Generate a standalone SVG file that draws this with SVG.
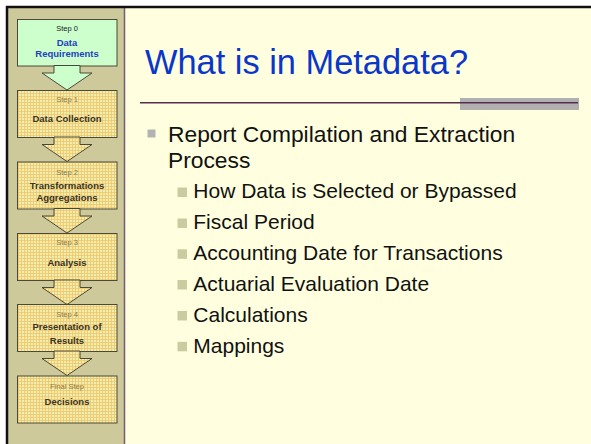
<svg xmlns="http://www.w3.org/2000/svg" width="591" height="444" viewBox="0 0 591 444">
<defs>
<pattern id="chk" width="3" height="3" patternUnits="userSpaceOnUse">
<rect width="3" height="3" fill="#EDEFB0"/>
<rect width="3" height="1" fill="#F5C466" opacity="0.8"/>
<rect width="1" height="3" fill="#F5C466" opacity="0.8"/>
</pattern>
<style>
.box{stroke:#4a4a3a;stroke-width:1}
.chk{fill:url(#chk)}
.arr{stroke:#3a3a30;stroke-width:0.9;stroke-linejoin:miter}
.sm{font-family:"Liberation Sans",Arial,sans-serif;font-size:7.5px;text-anchor:middle;fill:#8a7c52}
.tt{font-family:"Liberation Sans",Arial,sans-serif;font-size:9.5px;font-weight:bold;text-anchor:middle;fill:#3a3424}
.b1{font-family:"Liberation Sans",Arial,sans-serif;font-size:22.8px;fill:#111111}
.b2{font-family:"Liberation Sans",Arial,sans-serif;font-size:21px;fill:#111111}
.sq1{fill:#B3B3B3}
.sq2{fill:#CBCBA0}
</style>
</defs>
<rect width="591" height="444" fill="#ffffff"/>
<rect x="7" y="7" width="584" height="437" fill="#FFFFDF"/>
<rect x="7" y="7" width="117.5" height="437" fill="#CDC99B"/>
<line x1="124.5" y1="8" x2="124.5" y2="444" stroke="#7A5A72" stroke-width="1.5"/>
<line x1="6" y1="7" x2="591" y2="7" stroke="#111111" stroke-width="2.5"/>
<line x1="7" y1="6" x2="7" y2="444" stroke="#111111" stroke-width="2.5"/>

<g id="step0">
<rect class="box" x="17.5" y="19.5" width="99.5" height="46.5" fill="#CCFFCC"/>
<text class="sm" x="67" y="31" style="fill:#222">Step 0</text>
<text class="tt" x="67" y="45.5" style="fill:#1E3FC0">Data</text>
<text class="tt" x="67" y="56.5" style="fill:#1E3FC0">Requirements</text>
</g>
<g id="step1">
<rect class="box chk" x="17.5" y="90.5" width="99.5" height="47"/>
<text class="sm" x="67" y="102">Step 1</text>
<text class="tt" x="67" y="122">Data Collection</text>
</g>
<g id="step2">
<rect class="box chk" x="17.5" y="162" width="99.5" height="47"/>
<text class="sm" x="67" y="174.5">Step 2</text>
<text class="tt" x="67" y="188.5">Transformations</text>
<text class="tt" x="67" y="200.5">Aggregations</text>
</g>
<g id="step3">
<rect class="box chk" x="17.5" y="233.5" width="99.5" height="47"/>
<text class="sm" x="67" y="245">Step 3</text>
<text class="tt" x="67" y="265.5">Analysis</text>
</g>
<g id="step4">
<rect class="box chk" x="17.5" y="304.5" width="99.5" height="47"/>
<text class="sm" x="67" y="316.5">Step 4</text>
<text class="tt" x="67" y="330">Presentation of</text>
<text class="tt" x="67" y="343.5">Results</text>
</g>
<g id="final">
<rect class="box chk" x="17.5" y="376" width="99.5" height="47"/>
<text class="sm" x="67" y="388.5">Final Step</text>
<text class="tt" x="67" y="404.5">Decisions</text>
</g>

<g id="connectors">
<polygon class="arr" fill="#CCFFCC" points="54,65.5 80,65.5 80,73 92,73 67,90 42,73 54,73"/>
<polygon class="arr chk" points="54,137 80,137 80,144.5 92,144.5 67,161.5 42,144.5 54,144.5"/>
<polygon class="arr chk" points="54,208.5 80,208.5 80,216 92,216 67,233 42,216 54,216"/>
<polygon class="arr chk" points="54,280 80,280 80,287.5 92,287.5 67,304.5 42,287.5 54,287.5"/>
<polygon class="arr chk" points="54,351 80,351 80,358.5 92,358.5 67,375.5 42,358.5 54,358.5"/>
</g>

<g id="title">
<text x="145" y="74" font-family="'Liberation Sans',Arial,sans-serif" font-size="34.4" fill="#0A36CC">What is in Metadata?</text>
<rect x="460" y="98" width="119" height="12" fill="#B0B0B0"/>
<line x1="140" y1="102.8" x2="578" y2="102.8" stroke="#5A2D50" stroke-width="1.6"/>
</g>

<g id="body">
<rect class="sq1" x="147.5" y="129.5" width="8" height="8"/>
<text class="b1" x="168" y="141.7">Report Compilation and Extraction</text>
<text class="b1" x="168" y="167.7">Process</text>
<rect class="sq2" x="177.5" y="187.5" width="9.5" height="9.5"/>
<text class="b2" x="193.3" y="198.3">How Data is Selected or Bypassed</text>
<rect class="sq2" x="177.5" y="218.5" width="9.5" height="9.5"/>
<text class="b2" x="193.3" y="229.3">Fiscal Period</text>
<rect class="sq2" x="177.5" y="249.3" width="9.5" height="9.5"/>
<text class="b2" x="193.3" y="260">Accounting Date for Transactions</text>
<rect class="sq2" x="177.5" y="280" width="9.5" height="9.5"/>
<text class="b2" x="193.3" y="290.7">Actuarial Evaluation Date</text>
<rect class="sq2" x="177.5" y="311" width="9.5" height="9.5"/>
<text class="b2" x="193.3" y="321.7">Calculations</text>
<rect class="sq2" x="177.5" y="341.8" width="9.5" height="9.5"/>
<text class="b2" x="193.3" y="352.5">Mappings</text>
</g>
</svg>
